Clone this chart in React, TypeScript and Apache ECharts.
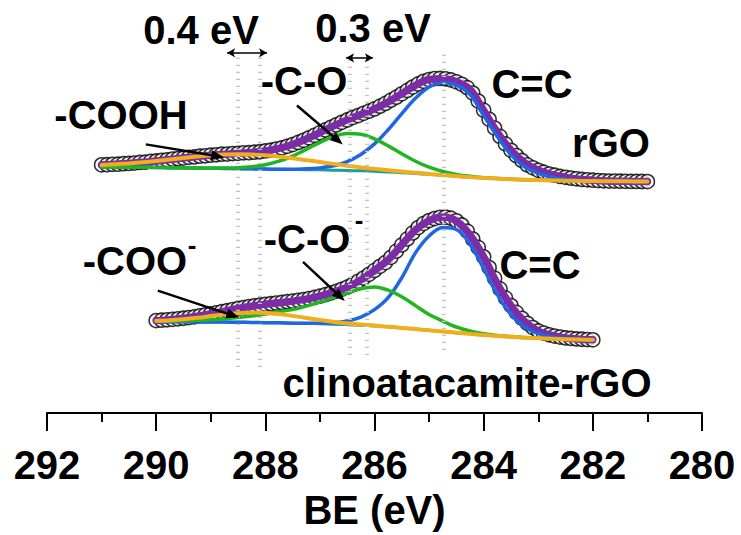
import React, { useEffect, useRef } from "react";
import * as echarts from "echarts";

// Binding energy grids (eV)
const rgoDataStart = 291.0;
const clinoDataStart = 290.0;
const dataStep = 0.1;
const rgoFitStart = 291.0;
const clinoFitStart = 290.0;
const fitStep = 0.25;

// rGO measured spectrum (a.u.), 291.0 -> 281.0 eV
const rgoData = [
  249.5, 249.6, 250.0, 250.1, 250.6, 250.9, 251.2, 251.9, 252.1, 252.9,
  253.3, 254.0, 254.5, 255.2, 255.7, 256.3, 257.0, 257.4, 258.1, 258.5,
  259.1, 259.5, 260.1, 260.3, 260.8, 261.0, 261.5, 261.7, 262.2, 262.6,
  263.4, 264.2, 265.3, 266.4, 268.1, 269.8, 271.9, 274.1, 276.6, 279.1,
  281.8, 284.5, 287.2, 289.6, 292.2, 294.5, 296.9, 298.9, 301.2, 303.4,
  305.6, 308.4, 311.1, 314.4, 317.4, 320.8, 324.2, 327.6, 330.7, 333.4,
  335.1, 336.1, 336.3, 335.9, 334.7, 332.9, 330.4, 327.0, 321.6, 313.5,
  304.4, 295.2, 286.4, 278.0, 270.4, 264.0, 258.7, 253.8, 249.4, 246.5,
  244.0, 242.1, 240.2, 239.0, 237.8, 236.9, 236.1, 235.4, 234.8, 234.4,
  234.0, 233.7, 233.4, 233.2, 233.1, 233.0, 232.9, 232.8, 232.8, 232.7,
  232.6,
];
// rGO fit (291.0 -> 281.0 eV, 0.25 eV)
const rgoEnvelope = [
  249.3, 250.0, 250.9, 252.0, 253.4, 254.9, 256.4, 257.8, 259.1, 260.2,
  261.0, 261.9, 263.3, 265.9, 269.9, 275.4, 281.9, 288.5, 294.6, 300.1,
  305.7, 312.6, 320.9, 329.3, 335.3, 336.0, 333.0, 325.0, 304.0, 282.0,
  264.0, 251.5, 244.0, 239.5, 237.0, 235.0, 234.0, 233.3, 233.0, 232.8,
  232.7,
];
const rgoBackground = [
  247.5, 247.4, 247.2, 247.0, 246.8, 246.6, 246.4, 246.2, 246.0, 245.8,
  245.6, 245.4, 245.2, 245.0, 244.8, 244.6, 244.4, 244.1, 243.8, 243.4,
  242.9, 242.3, 241.6, 240.8, 239.9, 239.0, 238.0, 237.1, 236.3, 235.6,
  235.0, 234.5, 234.1, 233.8, 233.5, 233.3, 233.1, 233.0, 232.9, 232.8,
  232.7,
];
const rgoCOOH = [
  249.3, 250.0, 250.9, 252.0, 253.4, 254.9, 256.4, 257.8, 259.0, 259.8,
  260.1, 259.8, 259.0, 257.7, 256.1, 254.2, 252.3, 250.4, 248.6, 246.9,
  245.4, 244.0, 242.7, 241.5, 240.3, 239.2, 238.1, 237.1, 236.3, 235.6,
  235.0, 234.5, 234.1, 233.8, 233.5, 233.3, 233.1, 233.0, 232.9, 232.8,
  232.7,
];
const rgoCO = [
  247.5, 247.4, 247.2, 247.0, 246.8, 246.6, 246.4, 246.2, 246.1, 246.2,
  246.5, 247.5, 249.5, 253.1, 258.3, 265.0, 272.0, 277.8, 280.9, 280.1,
  275.6, 268.5, 260.5, 253.1, 247.1, 242.8, 239.8, 237.9, 236.6, 235.7,
  235.0, 234.5, 234.1, 233.8, 233.5, 233.3, 233.1, 233.0, 232.9, 232.8,
  232.7,
];
const rgoCC = [
  247.5, 247.4, 247.2, 247.0, 246.8, 246.6, 246.4, 246.2, 246.0, 245.8,
  245.6, 245.4, 245.2, 245.0, 245.1, 245.4, 246.4, 248.5, 252.7, 259.9,
  270.5, 284.7, 300.9, 316.3, 327.7, 332.0, 329.5, 320.0, 299.0, 278.0,
  259.5, 247.5, 241.0, 237.0, 234.9, 233.8, 233.3, 233.0, 232.9, 232.8,
  232.7,
];

// clinoatacamite-rGO measured spectrum (a.u.), 290.0 -> 282.0 eV
const clinoData = [
  93.0, 93.3, 93.7, 94.2, 94.7, 95.3, 96.0, 96.8, 97.8, 98.7,
  99.7, 100.7, 101.9, 102.9, 104.0, 105.1, 106.0, 107.0, 107.8, 108.5,
  109.3, 109.9, 110.6, 111.2, 111.9, 112.5, 113.3, 114.1, 115.1, 116.2,
  117.5, 119.0, 120.6, 122.4, 124.4, 126.5, 129.4, 132.4, 135.7, 139.5,
  143.4, 147.5, 151.2, 156.5, 162.7, 169.0, 175.0, 181.0, 186.4, 190.4,
  193.5, 195.5, 196.7, 197.0, 195.8, 193.2, 189.0, 182.8, 174.8, 166.4,
  157.0, 146.2, 135.5, 124.8, 115.7, 108.0, 101.2, 95.2, 90.2, 85.9,
  82.5, 80.4, 78.7, 77.4, 76.4, 75.5, 75.0, 74.5, 74.2, 73.9,
  73.6,
];
// clinoatacamite-rGO fit (290.0 -> 282.0 eV, 0.25 eV)
const clinoEnvelope = [
  93.0, 93.9, 95.3, 97.3, 99.7, 102.4, 105.1, 107.4, 109.3, 110.9,
  112.5, 114.5, 117.5, 121.5, 126.5, 133.9, 143.4, 154.0, 169.0, 184.0,
  193.5, 197.0, 193.0, 179.0, 157.0, 130.0, 108.0, 92.0, 82.5, 78.0,
  75.5, 74.3, 73.7,
];
const clinoBackground = [
  92.0, 91.9, 91.8, 91.7, 91.6, 91.5, 91.3, 91.1, 90.9, 90.7,
  90.4, 90.1, 89.7, 89.3, 88.9, 88.3, 87.6, 86.7, 85.6, 84.4,
  83.2, 82.0, 80.8, 79.6, 78.5, 77.5, 76.6, 75.8, 75.2, 74.6,
  74.2, 73.9, 73.6,
];
const clinoCOO = [
  92.8, 93.4, 94.4, 95.8, 97.5, 99.2, 100.4, 101.0, 100.7, 99.6,
  97.7, 95.6, 93.5, 91.6, 90.2, 89.0, 87.9, 86.8, 85.6, 84.4,
  83.2, 82.0, 80.8, 79.6, 78.5, 77.5, 76.6, 75.8, 75.2, 74.6,
  74.2, 73.9, 73.6,
];
const clinoCO = [
  92.2, 92.4, 92.7, 93.2, 93.8, 94.7, 96.0, 97.5, 99.5, 102.0,
  104.0, 107.5, 111.5, 116.0, 120.5, 125.0, 126.7, 123.5, 117.0, 108.0,
  99.0, 92.5, 86.5, 82.5, 79.8, 78.1, 77.0, 76.0, 75.3, 74.7,
  74.3, 73.9, 73.6,
];
const clinoCC = [
  92.0, 91.9, 91.8, 91.7, 91.6, 91.5, 91.3, 91.1, 90.9, 90.7,
  90.4, 90.3, 90.2, 90.7, 92.5, 96.5, 104.0, 116.0, 136.0, 161.0,
  178.0, 186.5, 184.5, 170.0, 145.0, 119.0, 99.0, 86.5, 80.0, 76.5,
  74.8, 74.0, 73.6,
];

// Peak positions (eV) marked by guide lines, with their vertical extent (a.u.)
const guidePositions = [288.5, 288.1, 286.45, 286.15, 284.73];
const guideTops = [357, 357, 355, 355, 360];
const guideBottoms = [43, 43, 55, 55, 63];

// Axis
const beMin = 280;
const beMax = 292;
const beInterval = 2;

const FONT = '"Liberation Sans", Arial, Helvetica, sans-serif';
const COLORS = {
  envelope: "#7b2ca6",
  background: "#1a9c9c",
  cc: "#1f66e5",
  co: "#22b522",
  cooh: "#f1ad1c",
};

function pair(start: number, step: number, values: number[]) {
  return values.map((v, i) => [Number((start - i * step).toFixed(2)), v]);
}

function lineSeries(name: string, data: number[][], color: string, width: number, extra: any = {}) {
  return {
    name,
    type: "line",
    data,
    smooth: 0.35,
    showSymbol: false,
    symbol: "none",
    silent: true,
    lineStyle: { color, width, cap: "round", join: "round" },
    emphasis: { disabled: true },
    ...extra,
  };
}

function textEl(text: string, x: number, y: number, size = 40) {
  return {
    type: "text",
    x,
    y,
    silent: true,
    style: {
      text,
      fill: "#000",
      font: `bold ${size}px ${FONT}`,
      fontSize: size,
      fontWeight: "bold",
      fontFamily: FONT,
      textAlign: "center",
      textVerticalAlign: "middle",
      align: "center",
      verticalAlign: "middle",
    },
  };
}

export default function App() {
  const ref = useRef<HTMLDivElement>(null);

  useEffect(() => {
    if (!ref.current) return;
    const chart = echarts.init(ref.current, undefined, { renderer: "svg" });

    const guideLines = guidePositions.map((x, i) => [
      { coord: [x, guideTops[i]], symbol: "none" },
      { coord: [x, guideBottoms[i]], symbol: "none" },
    ]);

    const head = { symbol: "triangle", symbolSize: [10, 13] };
    const arrowLines = [
      // -COOH
      [{ coord: [290.19, 270], symbol: "none" }, { coord: [288.87, 258], ...head }],
      // -C-O
      [{ coord: [287.42, 309], symbol: "none" }, { coord: [286.67, 274], ...head }],
      // -COO-
      [{ coord: [289.97, 123], symbol: "none" }, { coord: [288.59, 98], ...head }],
      // -C-O-
      [{ coord: [287.31, 152], symbol: "none" }, { coord: [286.63, 117], ...head }],
    ];

    const shiftArrows = [
      [{ coord: [288.7, 362], symbol: "arrow", symbolSize: [7, 8] }, { coord: [287.97, 362], symbol: "arrow", symbolSize: [7, 8] }],
      [{ coord: [286.52, 357], symbol: "arrow", symbolSize: [7, 8] }, { coord: [286.03, 357], symbol: "arrow", symbolSize: [7, 8] }],
    ];

    const scatter = (name: string, data: number[][]) => ({
      name,
      type: "scatter",
      data,
      symbol: "circle",
      symbolSize: 14,
      silent: true,
      itemStyle: { color: "#ffffff", borderColor: "#000000", borderWidth: 1.6 },
      emphasis: { disabled: true },
    });

    const option: any = {
      animation: false,
      backgroundColor: "#ffffff",
      grid: { left: 47, right: 39, top: 15, bottom: 120, containLabel: false },
      xAxis: {
        type: "value",
        min: beMin,
        max: beMax,
        interval: beInterval,
        inverse: true,
        name: "BE (eV)",
        nameLocation: "middle",
        nameGap: 70,
        nameTextStyle: { color: "#000", fontSize: 40, fontWeight: "bold", fontFamily: FONT },
        axisLine: { show: true, onZero: false, lineStyle: { color: "#000", width: 2 } },
        axisTick: { show: true, inside: false, length: 18, lineStyle: { color: "#000", width: 2 } },
        minorTick: { show: true, splitNumber: 2, length: 9, lineStyle: { color: "#000", width: 2 } },
        axisLabel: { color: "#000", fontSize: 40, fontWeight: "bold", fontFamily: FONT, margin: 32 },
        splitLine: { show: false },
        minorSplitLine: { show: false },
      },
      yAxis: { type: "value", min: 0, max: 400, show: false },
      series: [
        scatter("rGO data", pair(rgoDataStart, dataStep, rgoData)),
        scatter("clinoatacamite-rGO data", pair(clinoDataStart, dataStep, clinoData)),
        lineSeries("rGO envelope", pair(rgoFitStart, fitStep, rgoEnvelope), COLORS.envelope, 7.5),
        lineSeries("clino envelope", pair(clinoFitStart, fitStep, clinoEnvelope), COLORS.envelope, 7.5),
        lineSeries("rGO background", pair(rgoFitStart, fitStep, rgoBackground), COLORS.background, 3, {
          markLine: {
            silent: true,
            symbol: "none",
            label: { show: false },
            lineStyle: { color: "#c4c4c4", width: 4, type: [1.3, 5.7] },
            emphasis: { disabled: true },
            data: guideLines,
          },
        }),
        lineSeries("clino background", pair(clinoFitStart, fitStep, clinoBackground), COLORS.background, 3),
        lineSeries("rGO C=C", pair(rgoFitStart, fitStep, rgoCC), COLORS.cc, 3.5),
        lineSeries("clino C=C", pair(clinoFitStart, fitStep, clinoCC), COLORS.cc, 3.5),
        lineSeries("rGO C-O", pair(rgoFitStart, fitStep, rgoCO), COLORS.co, 3.5),
        lineSeries("clino C-O", pair(clinoFitStart, fitStep, clinoCO), COLORS.co, 3.5),
        lineSeries("rGO COOH", pair(rgoFitStart, fitStep, rgoCOOH), COLORS.cooh, 4, {
          markLine: {
            silent: true,
            label: { show: false },
            lineStyle: { color: "#000", width: 2.5, type: "solid" },
            itemStyle: { color: "#000" },
            emphasis: { disabled: true },
            data: arrowLines,
          },
        }),
        lineSeries("clino COO", pair(clinoFitStart, fitStep, clinoCOO), COLORS.cooh, 4, {
          markLine: {
            silent: true,
            label: { show: false },
            lineStyle: { color: "#000", width: 1.5, type: "solid" },
            itemStyle: { color: "#000" },
            emphasis: { disabled: true },
            data: shiftArrows,
          },
        }),
      ],
      graphic: [
        textEl("0.4 eV", 201, 30),
        textEl("0.3 eV", 373, 28),
        textEl("-COOH", 121, 115),
        textEl("-C-O", 304, 81),
        textEl("C=C", 532, 84),
        textEl("rGO", 611, 143),
        textEl("-COO", 135, 261),
        textEl("-", 192, 245, 26),
        textEl("-C-O", 307, 239),
        textEl("-", 359, 220, 26),
        textEl("C=C", 540, 265),
        textEl("clinoatacamite-rGO", 467, 383),
      ],
    };

    chart.setOption(option);
    return () => chart.dispose();
  }, []);

  return (
    <div
      ref={ref}
      style={{ position: "fixed", left: 0, top: 0, width: 741, height: 535, background: "#fff" }}
    />
  );
}
